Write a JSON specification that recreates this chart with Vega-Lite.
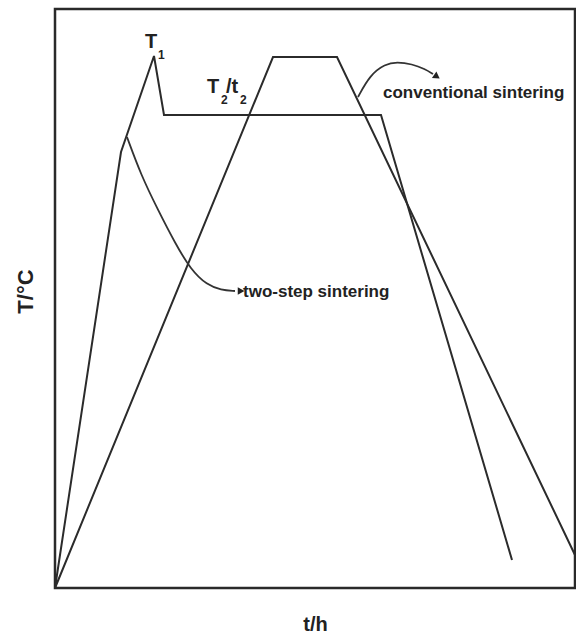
{
  "$schema": "https://vega.github.io/schema/vega-lite/v6.json",
  "width": 520,
  "height": 579,
  "autosize": {"type": "none"},
  "padding": {"left": 55, "top": 9, "right": 1, "bottom": 47},
  "background": "white",
  "config": {
    "view": {"stroke": "#2a2a2a", "strokeWidth": 2.5},
    "font": "Liberation Sans"
  },
  "datasets": {
    "profiles": [
      {"t": 0, "T": 0, "series": "two-step"},
      {"t": 66, "T": 436, "series": "two-step"},
      {"t": 99, "T": 532, "series": "two-step"},
      {"t": 109, "T": 473, "series": "two-step"},
      {"t": 326, "T": 473, "series": "two-step"},
      {"t": 457, "T": 28, "series": "two-step"},
      {"t": 0, "T": 0, "series": "conventional"},
      {"t": 218, "T": 531, "series": "conventional"},
      {"t": 282, "T": 531, "series": "conventional"},
      {"t": 520, "T": 33, "series": "conventional"}
    ],
    "arrows": [
      {"t": 72, "T": 451, "arrow": "two-step"},
      {"t": 86, "T": 413, "arrow": "two-step"},
      {"t": 103, "T": 378, "arrow": "two-step"},
      {"t": 120, "T": 345, "arrow": "two-step"},
      {"t": 136, "T": 318, "arrow": "two-step"},
      {"t": 152, "T": 303, "arrow": "two-step"},
      {"t": 166, "T": 298, "arrow": "two-step"},
      {"t": 180, "T": 297, "arrow": "two-step"},
      {"t": 303, "T": 491, "arrow": "conventional"},
      {"t": 315, "T": 513, "arrow": "conventional"},
      {"t": 330, "T": 524, "arrow": "conventional"},
      {"t": 342, "T": 526, "arrow": "conventional"},
      {"t": 357, "T": 524, "arrow": "conventional"},
      {"t": 370, "T": 519, "arrow": "conventional"},
      {"t": 378, "T": 514, "arrow": "conventional"}
    ],
    "heads_right": [{"t": 185, "T": 297}],
    "heads_down": [{"t": 381, "T": 512}],
    "labels": [
      {"t": 328, "T": 490, "label": "conventional sintering"},
      {"t": 188, "T": 291, "label": "two-step sintering"}
    ],
    "symbols": [
      {"t": 90, "T": 540, "label": "T"},
      {"t": 152, "T": 495, "label": "T"},
      {"t": 171, "T": 495, "label": "/t"}
    ],
    "subs": [
      {"t": 103, "T": 529, "label": "1"},
      {"t": 166, "T": 484, "label": "2"},
      {"t": 185, "T": 484, "label": "2"}
    ]
  },
  "layer": [
    {
      "data": {"name": "profiles"},
      "mark": {"type": "line", "color": "#2b2b2b", "strokeWidth": 2},
      "encoding": {
        "x": {
          "field": "t", "type": "quantitative",
          "scale": {"domain": [0, 520], "nice": false, "zero": false},
          "axis": {
            "domain": false, "ticks": false, "labels": false, "grid": false,
            "title": "t/h", "titleFont": "Liberation Sans", "titleFontSize": 20,
            "titleFontWeight": "bold", "titleColor": "#222",
            "titleBaseline": "alphabetic", "titleY": 42
          }
        },
        "y": {
          "field": "T", "type": "quantitative",
          "scale": {"domain": [0, 579], "nice": false, "zero": false},
          "axis": {
            "domain": false, "ticks": false, "labels": false, "grid": false,
            "title": "T/°C", "titleFont": "Liberation Sans", "titleFontSize": 22,
            "titleFontWeight": "bold", "titleColor": "#222",
            "titleAngle": -90, "titleBaseline": "middle", "titleAlign": "center",
            "titleX": -30, "titleY": 282
          }
        },
        "detail": {"field": "series"}
      }
    },
    {
      "data": {"name": "arrows"},
      "mark": {"type": "line", "color": "#333", "strokeWidth": 1.8, "interpolate": "basis"},
      "encoding": {
        "x": {"field": "t", "type": "quantitative"},
        "y": {"field": "T", "type": "quantitative"},
        "detail": {"field": "arrow"}
      }
    },
    {
      "data": {"name": "heads_right"},
      "mark": {"type": "point", "shape": "triangle", "filled": true, "color": "#222", "size": 60, "angle": 90, "opacity": 1},
      "encoding": {
        "x": {"field": "t", "type": "quantitative"},
        "y": {"field": "T", "type": "quantitative"}
      }
    },
    {
      "data": {"name": "heads_down"},
      "mark": {"type": "point", "shape": "triangle", "filled": true, "color": "#222", "size": 60, "angle": 125, "opacity": 1},
      "encoding": {
        "x": {"field": "t", "type": "quantitative"},
        "y": {"field": "T", "type": "quantitative"}
      }
    },
    {
      "data": {"name": "labels"},
      "mark": {"type": "text", "align": "left", "baseline": "alphabetic", "fontSize": 17, "fontWeight": "bold", "color": "#222", "font": "Liberation Sans"},
      "encoding": {
        "x": {"field": "t", "type": "quantitative"},
        "y": {"field": "T", "type": "quantitative"},
        "text": {"field": "label"}
      }
    },
    {
      "data": {"name": "symbols"},
      "mark": {"type": "text", "align": "left", "baseline": "alphabetic", "fontSize": 20, "fontWeight": "bold", "color": "#222", "font": "Liberation Sans"},
      "encoding": {
        "x": {"field": "t", "type": "quantitative"},
        "y": {"field": "T", "type": "quantitative"},
        "text": {"field": "label"}
      }
    },
    {
      "data": {"name": "subs"},
      "mark": {"type": "text", "align": "left", "baseline": "alphabetic", "fontSize": 12, "fontWeight": "bold", "color": "#222", "font": "Liberation Sans"},
      "encoding": {
        "x": {"field": "t", "type": "quantitative"},
        "y": {"field": "T", "type": "quantitative"},
        "text": {"field": "label"}
      }
    }
  ]
}
